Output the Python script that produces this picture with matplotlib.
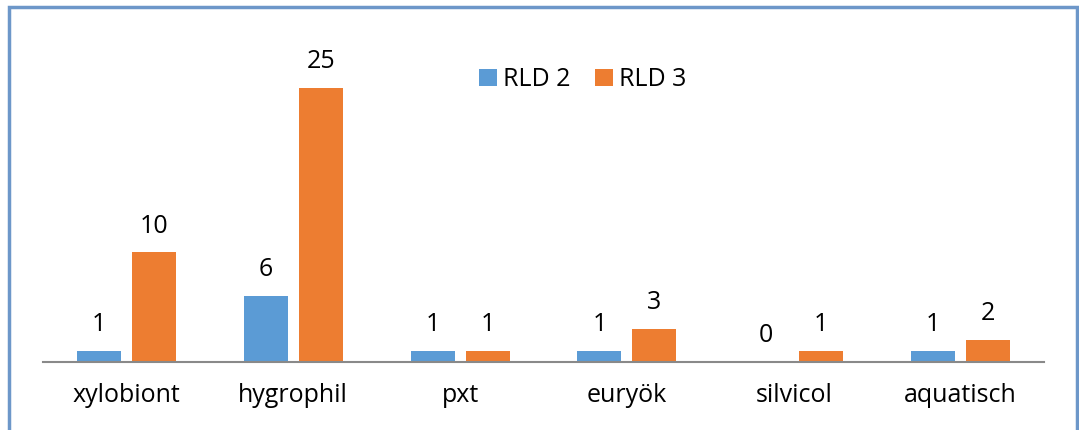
import matplotlib.pyplot as plt
import numpy as np
from matplotlib.patches import Rectangle

plt.rcParams['font.family'] = ['Open Sans', 'DejaVu Sans']

kategorien = ['xylobiont', 'hygrophil', 'pxt', 'euryök', 'silvicol', 'aquatisch']
rld2 = [1, 6, 1, 1, 0, 1]
rld3 = [10, 25, 1, 3, 1, 2]

blau = '#5B9BD5'
orange = '#ED7D31'

fig = plt.figure(figsize=(10.79, 4.30), dpi=100)
W, H = 1079, 430
y_base = 362
y_top = 40
ax = fig.add_axes([43 / W, (H - y_base) / H, (1044 - 43) / W, (y_base - y_top) / H])

x = np.arange(len(kategorien))
breite = 0.264
versatz = 0.165
b1 = ax.bar(x - versatz, rld2, breite, color=blau, label='RLD 2')
b2 = ax.bar(x + versatz, rld3, breite, color=orange, label='RLD 3')

for balken, werte in ((b1, rld2), (b2, rld3)):
    for rect, v in zip(balken, werte):
        ax.annotate(str(v), (rect.get_x() + rect.get_width() / 2, v),
                    xytext=(0, 10), textcoords='offset points',
                    ha='center', va='bottom', fontsize=18, color='black')

ax.set_xlim(-0.5, len(kategorien) - 0.5)
ax.set_ylim(0, 25 * (y_base - y_top) / (y_base - 88))
ax.set_xticks(x)
ax.set_xticklabels(kategorien, fontsize=18)
ax.tick_params(axis='x', length=0, pad=15)
ax.set_yticks([])
for s in ['top', 'right', 'left']:
    ax.spines[s].set_visible(False)
ax.spines['bottom'].set_color('#898989')
ax.spines['bottom'].set_linewidth(1.5)

ax.legend(loc='upper left', bbox_to_anchor=(474 / W, 1 - 62 / H), bbox_transform=fig.transFigure,
          ncol=2, frameon=False, fontsize=18, handlelength=0.7, handleheight=0.7,
          handletextpad=0.25, columnspacing=1.0, borderpad=0.2, borderaxespad=0)

# Rahmen
fig.patches.append(Rectangle((8.5 / W, -0.05), (1077 - 8.5) / W, 1 - 7 / H + 0.05,
                             transform=fig.transFigure, fill=False,
                             edgecolor='#6D97C9', linewidth=2.5))

fig.savefig('out.png', dpi=100)
